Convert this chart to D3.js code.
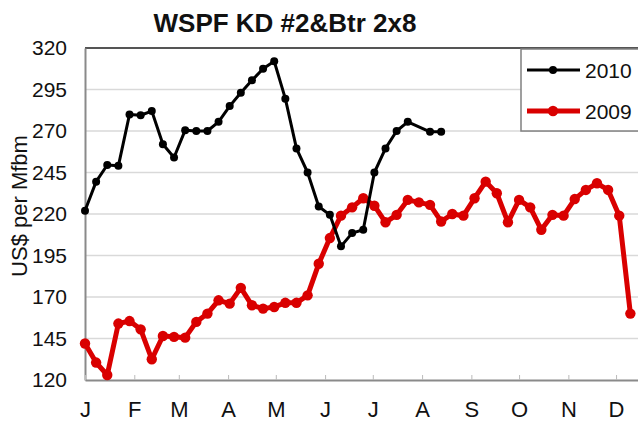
<!DOCTYPE html>
<html>
<head>
<meta charset="utf-8">
<script src="https://cdn.jsdelivr.net/npm/d3@7"></script>
<style>
  body { margin: 0; background: #fff; }
  text { font-family: "Liberation Sans", Arial, sans-serif; }
</style>
</head>
<body>
<div id="chart"></div>
<script>
// chart values (weekly prices, US$ per Mfbm)

var months = ["J", "F", "M", "A", "M", "J", "J", "A", "S", "O", "N", "D"];
var monthStart = [0, 31, 59, 90, 120, 151, 181, 212, 243, 273, 304, 334];
var yTicks = [120, 145, 170, 195, 220, 245, 270, 295, 320];

var series2010 = [222, 239.5, 249.5, 249, 280, 279.5, 282, 262, 254, 270.5,
                  270, 270, 275.5, 285, 293, 300.5, 307.5, 312, 289.5, 259.5,
                  245, 224.5, 219.5, 200.5, 208.5, 210.5, 245, 259.5, 270, 275.5,
                  null, 269.5, 269.5];

var series2009 = [142, 130.5, 123, 154, 155.5, 150.5, 132.5, 146.5, 146, 145.5,
                  155, 160, 168, 166, 175.5, 165, 163, 164, 166.5, 166.5,
                  171, 190, 205.5, 219, 224, 229.5, 225, 215, 219.5, 228.5,
                  227, 225.5, 215.5, 220, 219, 229.5, 239.5, 232.5, 215, 228.5,
                  224, 210.5, 219.5, 219, 229, 234.5, 238.5, 234.5, 219, 160];

var legendNames = ["2010", "2009"];

// size of chart, svg element, scales

var w = 638,
    h = 421,
    plotLeft = 85,
    plotTop = 48,
    plotBottom = 380,
    svg = d3.select("#chart")
            .append("svg")
            .attr("width", w)
            .attr("height", h),
    x = d3.scaleLinear().domain([0, 365]).range([plotLeft, plotLeft + 365 * 1.59]),
    y = d3.scaleLinear().domain([120, 320]).range([plotBottom, plotTop]);

var gridColor = "#d9d9d9",
    axisColor = "#8a8a8a",
    red = "#d90000";

// gridlines
svg.append("g")
    .selectAll("line")
    .data(yTicks.slice(1, -1))
    .enter()
    .append("line")
    .attr("x1", plotLeft)
    .attr("x2", w)
    .attr("y1", function(d) { return y(d); })
    .attr("y2", function(d) { return y(d); })
    .attr("stroke", gridColor)
    .attr("stroke-width", 1.5);

// top frame line
svg.append("line")
    .attr("x1", plotLeft).attr("x2", w)
    .attr("y1", y(320)).attr("y2", y(320))
    .attr("stroke", "#555")
    .attr("stroke-width", 2);

// y axis
var yAxis = svg.append("g")
    .attr("transform", "translate(" + plotLeft + ",0)")
    .call(d3.axisLeft(y).tickValues(yTicks).tickSize(0).tickPadding(18));
yAxis.select(".domain").attr("stroke", axisColor).attr("stroke-width", 2);
yAxis.selectAll("text")
    .attr("font-size", "21px")
    .attr("fill", "#111")
    .style("font-family", "Liberation Sans, Arial, sans-serif");

// x axis with month labels
var xAxis = svg.append("g")
    .attr("transform", "translate(0," + plotBottom + ")")
    .call(d3.axisBottom(x)
        .tickValues(monthStart)
        .tickFormat(function(d, i) { return months[i]; })
        .tickSizeInner(-5)
        .tickSizeOuter(0)
        .tickPadding(21));
xAxis.select(".domain").attr("stroke", axisColor).attr("stroke-width", 2);
xAxis.selectAll(".tick line").attr("stroke", "#bbb");
xAxis.selectAll("text")
    .attr("font-size", "22px")
    .attr("fill", "#111")
    .style("font-family", "Liberation Sans, Arial, sans-serif");

// y axis title
svg.append("text")
    .attr("transform", "rotate(-90)")
    .attr("x", -206)
    .attr("y", 27)
    .attr("text-anchor", "middle")
    .attr("font-size", "22px")
    .attr("fill", "#111")
    .text("US$ per Mfbm");

// chart title
svg.append("text")
    .attr("x", 285)
    .attr("y", 32)
    .attr("text-anchor", "middle")
    .attr("font-size", "26px")
    .attr("font-weight", "bold")
    .attr("fill", "#111")
    .text("WSPF KD #2&Btr 2x8");

// turn a series into points, week i sits at day 7*i
function points(values) {
    return values
        .map(function(v, i) { return { day: i * 7, v: v }; })
        .filter(function(d) { return d.v != null; });
}

var line = d3.line()
    .x(function(d) { return x(d.day); })
    .y(function(d) { return y(d.v); });

function render_series(values, color, width, r) {
    var pts = points(values),
        g = svg.append("g");
    g.append("path")
        .datum(pts)
        .attr("fill", "none")
        .attr("stroke", color)
        .attr("stroke-width", width)
        .attr("stroke-linejoin", "round")
        .attr("d", line);
    g.selectAll("circle")
        .data(pts)
        .enter()
        .append("circle")
        .attr("cx", function(d) { return x(d.day); })
        .attr("cy", function(d) { return y(d.v); })
        .attr("r", r)
        .attr("fill", color);
}

render_series(series2009, red, 5, 5.2);
render_series(series2010, "#000", 3, 4);

// legend
svg.append("rect")
    .attr("x", 521)
    .attr("y", 49)
    .attr("width", 140)
    .attr("height", 82)
    .attr("fill", "#fff")
    .attr("stroke", "#808080")
    .attr("stroke-width", 1.5);

render_legend(0, "#000", 3, 4, 70);
render_legend(1, red, 5, 5.2, 111);

function render_legend(i, color, width, r, ly) {
    svg.append("line")
        .attr("x1", 527).attr("x2", 580)
        .attr("y1", ly).attr("y2", ly)
        .attr("stroke", color)
        .attr("stroke-width", width);
    svg.append("circle")
        .attr("cx", 553).attr("cy", ly)
        .attr("r", r)
        .attr("fill", color);
    svg.append("text")
        .attr("x", 585)
        .attr("y", ly + 7.5)
        .attr("font-size", "21px")
        .attr("fill", "#111")
        .text(legendNames[i]);
}
</script>
</body>
</html>
